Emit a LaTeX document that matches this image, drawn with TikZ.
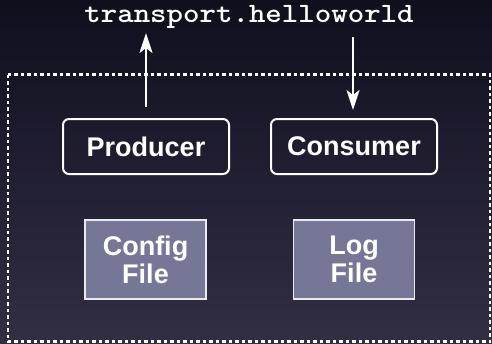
\documentclass[tikz,border=0pt]{standalone}
\usepackage{fontspec}
\usepackage{graphicx}
\setmainfont{Liberation Sans}
\usetikzlibrary{arrows.meta}
\definecolor{bgtop}{RGB}{15,15,30}
\definecolor{bgbot}{RGB}{50,46,68}
\definecolor{filebox}{RGB}{118,118,150}
\begin{document}
\begin{tikzpicture}[x=1pt,y=-1pt,
  procbox/.style={draw=white,line width=2pt,rounded corners=6pt,minimum width=166pt,minimum height=55pt,inner sep=0pt,text=white,font=\fontsize{27}{28}\selectfont\bfseries},
  filenode/.style={draw=white!85!filebox,fill=filebox,line width=1.5pt,minimum width=121pt,minimum height=79pt,inner sep=0pt,text=white,align=center,font=\fontsize{27}{28}\selectfont\bfseries},
  flow/.style={draw=white,line width=2.5pt,-{Stealth[length=20pt,width=13pt,inset=5pt]}},
  frame/.style={draw=white,line width=2.5pt,dash pattern=on 3.5pt off 3pt}]
\shade[top color=bgtop,bottom color=bgbot] (0,0) rectangle (492,343);
\useasboundingbox (0,0) rectangle (492,343);
\draw[frame] (8,74.5) rectangle (490,341.5);
\node[text=white,inner sep=0pt] (topic) at (249,17) {\scalebox{1.12}[1]{\ttfamily\bfseries\fontsize{28}{28}\selectfont transport.helloworld}};
\node[procbox] (prod) at (146,146.5) {Producer};
\node[procbox] (cons) at (354,146.5) {Consumer};
\node[filenode] (cfg) at (145.5,259.5) {Config\\File};
\node[filenode] (log) at (354,259.5) {Log\\File};
\coordinate (upend) at (146,33);
\coordinate (downstart) at (353,37);
\draw[flow,shorten <=11pt] (prod.north) -- (upend);
\draw[flow,shorten >=8pt] (downstart) -- (downstart |- cons.north);
\end{tikzpicture}
\end{document}
